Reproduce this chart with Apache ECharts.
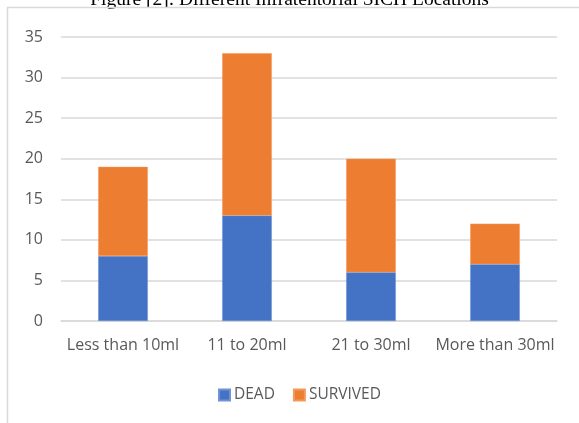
<!DOCTYPE html>
<html>
<head>
<meta charset="utf-8">
<script src="https://cdn.jsdelivr.net/npm/echarts@6/dist/echarts.min.js"></script>
<style>
  html, body { margin: 0; padding: 0; background: #fff; }
  #chart { width: 579px; height: 423px; }
</style>
</head>
<body>
<div id="chart"></div>
<script>
// Haematoma volume groups and patient outcomes
const categories = ['Less than 10ml', '11 to 20ml', '21 to 30ml', 'More than 30ml'];
const dead = [8, 13, 6, 7];
const survived = [11, 20, 14, 5];
const seriesNames = ['DEAD', 'SURVIVED'];
const titleText = 'Figure [2]: Different Infratentorial SICH Locations';

const labelFont = '"Open Sans", "Liberation Sans", sans-serif';
const chart = echarts.init(document.getElementById('chart'));

chart.setOption({
  animation: false,
  backgroundColor: '#ffffff',
  color: ['#4472C4', '#ED7D31'],
  graphic: [
    {
      type: 'text',
      left: 'center',
      top: -10,
      style: {
        text: titleText,
        font: '19.5px "Liberation Serif", "DejaVu Serif", serif',
        fill: '#000000'
      }
    },
    {
      type: 'polyline',
      shape: { points: [[7.5, 423], [7.5, 7.5], [579, 7.5]] },
      style: { stroke: '#D9D9D9', lineWidth: 1.5, fill: null }
    }
  ],
  grid: { left: 61, right: 22, top: 37, bottom: 102, containLabel: false },
  legend: {
    data: seriesNames,
    top: 382,
    left: 213,
    itemWidth: 11,
    itemHeight: 11,
    itemGap: 18,
    icon: 'rect',
    textStyle: { color: '#595959', fontSize: 15.5, fontFamily: labelFont, padding: [0, 0, 0, -1] }
  },
  xAxis: {
    type: 'category',
    data: categories,
    axisLine: { lineStyle: { color: '#D9D9D9', width: 1.5 } },
    axisTick: { show: false },
    axisLabel: { color: '#595959', fontSize: 16, fontFamily: labelFont, margin: 16, interval: 0 }
  },
  yAxis: {
    type: 'value',
    min: 0,
    max: 35,
    interval: 5,
    axisLine: { show: false },
    axisTick: { show: false },
    splitLine: { lineStyle: { color: '#D9D9D9', width: 1.5 } },
    axisLabel: { color: '#595959', fontSize: 16, fontFamily: labelFont, margin: 18 }
  },
  series: [
    {
      name: seriesNames[0],
      type: 'bar',
      stack: 'total',
      barWidth: '40%',
      data: dead,
      itemStyle: { borderColor: '#6E93D6', borderWidth: 0.5 }
    },
    {
      name: seriesNames[1],
      type: 'bar',
      stack: 'total',
      barWidth: '40%',
      data: survived,
      itemStyle: { borderColor: '#F19A5E', borderWidth: 0.5 }
    }
  ]
});
</script>
</body>
</html>
